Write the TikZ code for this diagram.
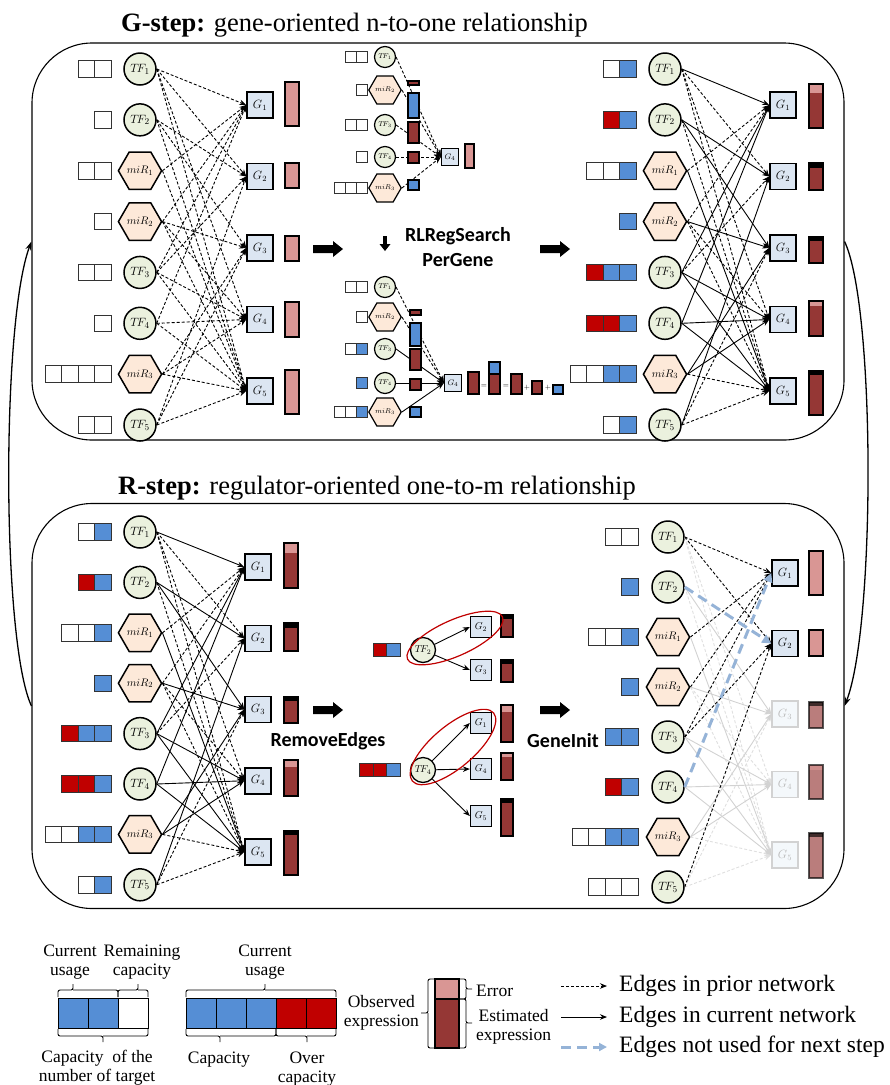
\documentclass[tikz,border=0pt]{standalone}
\usepackage{fontspec}
\setmainfont{Liberation Serif}
\newfontfamily\stepfont{Carlito}
\usepackage{tikz}
\usetikzlibrary{positioning,shapes.geometric,arrows.meta}

\definecolor{tfgreen}{HTML}{EBF1DE}
\definecolor{mirpeach}{HTML}{FDE9D9}
\definecolor{geneblue}{HTML}{DCE6F2}
\definecolor{cb}{HTML}{558ED5}
\definecolor{cr}{HTML}{C00000}
\definecolor{cw}{HTML}{FFFFFF}
\definecolor{barpink}{HTML}{D99694}
\definecolor{bardark}{HTML}{953735}
\definecolor{notused}{HTML}{95B3D7}

\tikzset{
  tf node/.style={circle, draw, line width=1.5pt, fill=tfgreen, minimum size=32pt, inner sep=0pt, font=\fontsize{13}{13}\selectfont},
  mir node/.style={regular polygon, regular polygon sides=6, draw, line width=1.5pt, fill=mirpeach, minimum size=35pt, inner sep=0pt, font=\fontsize{11}{11}\selectfont},
  gene node/.style={rectangle, draw, line width=1.5pt, fill=geneblue, minimum size=26pt, inner sep=0pt, font=\fontsize{12}{12}\selectfont},
  fade gene/.style={gene node, draw=gray!35, fill=geneblue!30, text=gray!55},
  mini/.style={minimum size=21pt, line width=1.2pt, font=\fontsize{7}{7}\selectfont},
  minigene/.style={minimum size=17pt, line width=1.2pt, font=\fontsize{8}{8}\selectfont},
  midnode/.style={minimum size=25pt, line width=1.3pt, font=\fontsize{10}{10}\selectfont},
  midgene/.style={minimum size=21pt, line width=1.3pt, font=\fontsize{10}{10}\selectfont},
  prior edge/.style={-{Stealth[length=7pt,width=5.5pt]}, dash pattern=on 3pt off 2pt, line width=0.9pt},
  cur edge/.style={-{Stealth[length=7pt,width=5.5pt]}, line width=0.9pt},
  grey edge/.style={cur edge, draw=gray!35},
  grey dash/.style={prior edge, draw=gray!25},
  unused edge/.style={-{Triangle[length=9pt,width=9pt]}, line width=3pt, dash pattern=on 10pt off 6pt, draw=notused},
  loop arrow/.style={-{Stealth[length=9pt,width=6pt]}, line width=1.3pt},
  panel/.style={draw, line width=1.1pt, rounded corners=60pt, inner sep=0pt},
  stepname/.style={font=\stepfont\bfseries\fontsize{20}{25}\selectfont, align=center},
  legtext/.style={font=\fontsize{17.5}{19}\selectfont, align=center, inner sep=0pt},
  edgelab/.style={font=\fontsize{23.5}{25}\selectfont, anchor=west, inner sep=0pt},
  titletext/.style={anchor=base west, font=\fontsize{26.5}{28}\selectfont, inner sep=0pt},
  redring/.style={draw=cr, line width=1.2pt}
}

% regulators of one panel: prefix, x, first y, row step
\newcommand{\regnodes}[4]{%
  \foreach \knd/\lab [count=\i] in {tf/T\!F_1,tf/T\!F_2,mir/miR_1,mir/miR_2,tf/T\!F_3,tf/T\!F_4,mir/miR_3,tf/T\!F_5}
    \node[\knd\space node] (#1r\i) at (#2,{#3+#4*(\i-1)}) {$\lab$};
}
\newcommand{\genenodes}[4]{%
  \foreach \i in {1,...,5}
    \node[gene node] (#1g\i) at (#2,{#3+#4*(\i-1)}) {$G_{\i}$};
}
% capacity boxes: right edge, centre y, box size, colours
\newcommand{\caprow}[4]{%
  \edef\caplist{#4}%
  \foreach \col [count=\nb] in \caplist {\xdef\ncap{\nb}}%
  \foreach \col [count=\nb] in \caplist
    \draw[fill=\col, line width=0.9pt, draw=black!80] ({#1-(\ncap-\nb+1)*#3},{#2-#3/2}) rectangle ++(#3,#3);
}
% expression bar: [width] left x, top, bottom, top colour, top height
\newcommand{\ebar}[6][14]{%
  \fill[bardark] (#2,#3) rectangle ({#2+#1},#4);
  \fill[#5] (#2,#3) rectangle ({#2+#1},{#3+#6});
  \draw[line width=1.5pt] (#2,#3) rectangle ({#2+#1},#4);
}
\newcommand{\blockarrow}[2]{%
  \fill (#1,{#2-4}) -- ({#1+20},{#2-4}) -- ({#1+20},{#2-8}) -- ({#1+30},#2) -- ({#1+20},{#2+8}) -- ({#1+20},{#2+4}) -- (#1,{#2+4}) -- cycle;
}
\newcommand{\hbrk}[5]{% x1, x2, tip x, y at boxes, direction
  \draw[rounded corners=2pt, line width=0.9pt] (#1,#4) -- (#1,{#4+#5*7}) -- (#3,{#4+#5*7}) -- (#3,{#4+#5*13})
    (#3,{#4+#5*7}) -- (#2,{#4+#5*7}) -- (#2,#4);
}
\newcommand{\curedges}{1/1,2/2,2/3,3/5,4/3,5/1,5/4,5/5,6/1,6/4,6/5,7/3,7/4,8/2}
\newcommand{\prioronly}{1/2,1/4,1/5,2/5,3/1,4/1,4/4,4/5,5/2,7/5,8/3,8/5}

\begin{document}
\begin{tikzpicture}[x=1pt,y=-1pt]
\useasboundingbox (0,0) rectangle (890,1085);

% panels and loop
\node[panel, minimum width=812pt, minimum height=397pt] (gpanel) at (438,241.5) {};
\node[panel, minimum width=812pt, minimum height=405pt] (rpanel) at (438,706) {};
\node[titletext] (gtitle) at (121,31) {\textbf{G-step:} gene-oriented n-to-one relationship};
\node[titletext] (rtitle) at (118,494) {\textbf{R-step:} regulator-oriented one-to-m relationship};
\draw[loop arrow] (rpanel.west) .. controls +(-30,-65) and +(-30,80) .. (gpanel.west);
\draw[loop arrow] (gpanel.east) .. controls +(31,65) and +(31,-80) .. (rpanel.east);

% G-step: prior network
\regnodes{tl}{140}{69}{50.86}
\genenodes{tl}{260}{105}{71.5}
\foreach \lst [count=\i] in {{cw,cw},{cw},{cw,cw},{cw},{cw,cw},{cw},{cw,cw,cw,cw},{cw,cw}}
  \caprow{111}{69+50.86*(\i-1)}{16.5}{\lst};
\foreach \r/\g in \curedges {\draw[prior edge] (tlr\r.east) -- (tlg\g.west);}
\foreach \r/\g in \prioronly {\draw[prior edge] (tlr\r.east) -- (tlg\g.west);}
\ebar{285}{82}{126}{barpink}{44}
\ebar{285}{163}{188}{barpink}{25}
\ebar{285}{236}{261}{barpink}{25}
\ebar{285}{302}{337}{barpink}{35}
\ebar{285}{370}{414}{barpink}{44}
\blockarrow{313}{249}

% RLRegSearchPerGene, before
\foreach \knd/\lab/\yy [count=\i] in {tf/T\!F_1/57,mir/miR_2/90,tf/T\!F_3/125,tf/T\!F_4/157,mir/miR_3/188}
  \node[\knd\space node, mini] (mu\i) at (385,\yy) {$\lab$};
\node[gene node, minigene] (mug) at (450,157) {$G_4$};
\foreach \i in {1,...,5} {\draw[prior edge] (mu\i.east) -- (mug.west);}
\foreach \col/\yt/\yb in {bardark/81/85,cb/93/118,bardark/122/143,bardark/152/163,cb/180/190}
  \draw[fill=\col, line width=1.2pt] (408,\yt) rectangle (419,\yb);
\draw[fill=barpink, line width=1.2pt] (465,144) rectangle (474,168);
\caprow{367}{57}{11}{cw,cw}
\caprow{367}{90}{11}{cw}
\caprow{367}{125}{11}{cw,cw}
\caprow{367}{157}{11}{cw}
\caprow{367}{188}{11}{cw,cw,cw}

\fill (383.3,236) rectangle (386.7,244);
\fill (379.5,244) -- (390.5,244) -- (385,251) -- cycle;
\node[stepname] (rlreg) at (458,247) {RLRegSearch\\PerGene};

% RLRegSearchPerGene, after
\foreach \knd/\lab/\yy [count=\i] in {tf/T\!F_1/287,mir/miR_2/317,tf/T\!F_3/349,tf/T\!F_4/383,mir/miR_3/412}
  \node[\knd\space node, mini] (ml\i) at (385,\yy) {$\lab$};
\node[gene node, minigene] (mlg) at (453,383) {$G_4$};
\foreach \i in {1,2} {\draw[prior edge] (ml\i.east) -- (mlg.west);}
\foreach \i in {3,4,5} {\draw[cur edge] (ml\i.east) -- (mlg.west);}
\foreach \col/\yt/\yb in {bardark/310/315,cb/323/346,bardark/349/370,bardark/379/390,cb/407/417}
  \draw[fill=\col, line width=1.2pt] (410,\yt) rectangle (421,\yb);
\caprow{367}{287}{11}{cw,cw}
\caprow{367}{317}{11}{cw}
\caprow{367}{349}{11}{cw,cb}
\caprow{367}{383}{11}{cb}
\caprow{367}{412}{11}{cw,cw,cb}
\draw[fill=bardark, line width=1.2pt] (468,372) rectangle (479,394);
\node[font=\fontsize{7}{7}\selectfont] (eqa) at (484,386) {$=$};
\fill[cb] (489,362) rectangle (500,374);
\fill[bardark] (489,374) rectangle (500,394);
\draw[line width=1.2pt] (489,362) rectangle (500,394) (489,374) -- (500,374);
\node[font=\fontsize{7}{7}\selectfont] (eqb) at (506,386) {$=$};
\draw[fill=bardark, line width=1.2pt] (511,374) rectangle (522,394);
\node[font=\fontsize{7}{7}\selectfont] (pla) at (527,388) {$+$};
\draw[fill=bardark, line width=1.2pt] (532,381) rectangle (542,394);
\node[font=\fontsize{7}{7}\selectfont] (plb) at (548,388) {$+$};
\draw[fill=cb, line width=1.2pt] (553,385) rectangle (563,394);
\blockarrow{540}{249}

% G-step: current network
\regnodes{tr}{665}{69}{50.86}
\genenodes{tr}{783}{105}{71.5}
\foreach \lst [count=\i] in {{cw,cb},{cr,cb},{cw,cw,cb},{cb},{cr,cb,cb},{cr,cr,cb},{cw,cw,cb,cb},{cw,cb}}
  \caprow{636}{69+50.86*(\i-1)}{16.5}{\lst};
\foreach \r/\g in \prioronly {\draw[prior edge] (trr\r.east) -- (trg\g.west);}
\foreach \r/\g in \curedges {\draw[cur edge] (trr\r.east) -- (trg\g.west);}
\ebar{809}{84}{128}{barpink}{9}
\ebar{809}{163}{190}{black}{5}
\ebar{809}{237}{263}{black}{4}
\ebar{809}{301}{336}{barpink}{5}
\ebar{809}{371}{415}{black}{4}

% R-step: current network
\regnodes{bl}{140}{532}{50.4}
\genenodes{bl}{258}{567}{71.25}
\foreach \lst [count=\i] in {{cw,cb},{cr,cb},{cw,cw,cb},{cb},{cr,cb,cb},{cr,cr,cb},{cw,cw,cb,cb},{cw,cb}}
  \caprow{111}{532+50.4*(\i-1)}{16.5}{\lst};
\foreach \r/\g in \prioronly {\draw[prior edge] (blr\r.east) -- (blg\g.west);}
\foreach \r/\g in \curedges {\draw[cur edge] (blr\r.east) -- (blg\g.west);}
\ebar{284}{543}{588}{barpink}{10}
\ebar{284}{623}{651}{black}{5}
\ebar{284}{697}{723}{black}{4}
\ebar{284}{760}{796}{barpink}{7}
\ebar{284}{831}{875}{black}{4}
\blockarrow{313}{710}
\node[stepname] (remove) at (328,741) {RemoveEdges};

% RemoveEdges
\node[tf node, midnode] (rtf2) at (423,650) {$T\!F_2$};
\node[gene node, midgene] (rg2) at (481,627) {$G_2$};
\node[gene node, midgene] (rg3) at (481,670) {$G_3$};
\node[tf node, midnode] (rtf4) at (423,770) {$T\!F_4$};
\node[gene node, midgene] (rg1) at (481,723) {$G_1$};
\node[gene node, midgene] (rg4) at (481,769) {$G_4$};
\node[gene node, midgene] (rg5) at (481,816) {$G_5$};
\foreach \g in {2,3} {\draw[cur edge] (rtf2) -- (rg\g.west);}
\foreach \g in {1,4,5} {\draw[cur edge] (rtf4) -- (rg\g.west);}
\caprow{400}{650}{13.5}{cr,cb}
\caprow{400}{770}{13.5}{cr,cr,cb}
\ebar[12]{501}{615}{637}{black}{4}
\ebar[12]{501}{660}{682}{black}{4}
\ebar[12]{501}{705}{742}{barpink}{7}
\ebar[12]{501}{753}{780}{barpink}{4}
\ebar[12]{501}{799}{836}{black}{4}
\draw[redring, rotate around={24:(455,638)}] (455,638) ellipse [x radius=52, y radius=18];
\draw[redring, rotate around={40:(453,747)}] (453,747) ellipse [x radius=53, y radius=21];
\blockarrow{540}{710}
\node[stepname] (geneinit) at (563,741) {GeneInit};

% R-step: after GeneInit
\regnodes{br}{668}{537}{50}
\foreach \st [count=\i] in {gene node,gene node,fade gene,fade gene,fade gene}
  \node[\st] (brg\i) at (785,{573+70.5*(\i-1)}) {$G_{\i}$};
\foreach \lst [count=\i] in {{cw,cw},{cb},{cw,cw,cb},{cb},{cb,cb},{cr,cb},{cw,cw,cb,cb},{cw,cw,cw}}
  \caprow{638}{537+50*(\i-1)}{16.5}{\lst};
\foreach \r/\g in {1/4,1/5,2/5,4/4,4/5,7/5,8/3,8/5} {\draw[grey dash] (brr\r.east) -- (brg\g.west);}
\foreach \r/\g in {2/3,3/5,4/3,5/4,5/5,6/4,6/5,7/3,7/4} {\draw[grey edge] (brr\r.east) -- (brg\g.west);}
\foreach \r/\g in {1/1,3/1,4/1,5/1,1/2,5/2,8/2} {\draw[prior edge] (brr\r.east) -- (brg\g.west);}
\draw[unused edge] (brr2.east) -- (brg2.west);
\draw[unused edge] (brr6.east) -- (brg1.west);
\ebar{809}{551}{595}{barpink}{44}
\ebar{809}{630}{656}{barpink}{26}
\begin{scope}[opacity=0.65]
\ebar{809}{702}{728}{black}{4}
\ebar{809}{765}{799}{barpink}{5}
\ebar{809}{833}{878}{black}{4}
\end{scope}

% legend: capacity
\foreach \col [count=\i] in {cb,cb,cw}
  \draw[fill=\col, line width=1pt] ({58+30*(\i-1)},998) rectangle ++(30,30);
\hbrk{58}{118}{73}{997}{-1}
\hbrk{118}{148}{138}{997}{-1}
\hbrk{58}{148}{103}{1029}{1}
\node[legtext] (lcur) at (70,962) {Current\\usage};
\node[legtext] (lrem) at (142,962) {Remaining\\capacity};
\node[legtext] (lcap) at (97,1068) {Capacity\ \ of the\\number of target};
\foreach \col [count=\i] in {cb,cb,cb,cr,cr}
  \draw[fill=\col, line width=1pt] ({186+30*(\i-1)},998) rectangle ++(30,30);
\hbrk{186}{336}{265}{997}{-1}
\hbrk{186}{276}{220}{1029}{1}
\hbrk{276}{336}{307}{1029}{1}
\node[legtext] (lcurb) at (265,962) {Current\\usage};
\node[legtext] (lcapb) at (219,1060) {Capacity};
\node[legtext] (lover) at (307,1069) {Over\\capacity};

% legend: expression bar
\fill[bardark] (435,979) rectangle (459,1048);
\fill[barpink] (435,979) rectangle (459,999);
\draw[line width=2pt] (435,979) rectangle (459,1048) (435,999) -- (459,999);
\draw[rounded corners=2pt, line width=0.9pt] (435,979) -- (428,979) -- (428,1013) -- (421,1013) (428,1013) -- (428,1048) -- (435,1048);
\draw[rounded corners=2pt, line width=0.9pt] (459,979) -- (466,979) -- (466,989) -- (472,989) (466,989) -- (466,999) -- (459,999);
\draw[rounded corners=2pt, line width=0.9pt] (459,999) -- (466,999) -- (466,1023) -- (472,1023) (466,1023) -- (466,1048) -- (459,1048);
\node[legtext, anchor=east] (lobs) at (419,1013) {Observed\\expression};
\node[legtext, anchor=west] (lerr) at (476,991) {Error};
\node[legtext, anchor=west] (lest) at (476,1027) {Estimated\\expression};

% legend: edges
\coordinate (lpa) at (561,986);
\coordinate (lpb) at (607,986);
\coordinate (lca) at (561,1017);
\coordinate (lcb) at (607,1017);
\coordinate (lua) at (561,1047);
\coordinate (lub) at (607,1047);
\draw[prior edge] (lpa) -- (lpb);
\draw[cur edge] (lca) -- (lcb);
\draw[unused edge, -{Triangle[length=8pt,width=8pt]}] (lua) -- (lub);
\node[edgelab] (lprior) at (619,986) {Edges in prior network};
\node[edgelab] (lcurrent) at (619,1017) {Edges in current network};
\node[edgelab] (lunused) at (619,1047) {Edges not used for next step};
\end{tikzpicture}
\end{document}
